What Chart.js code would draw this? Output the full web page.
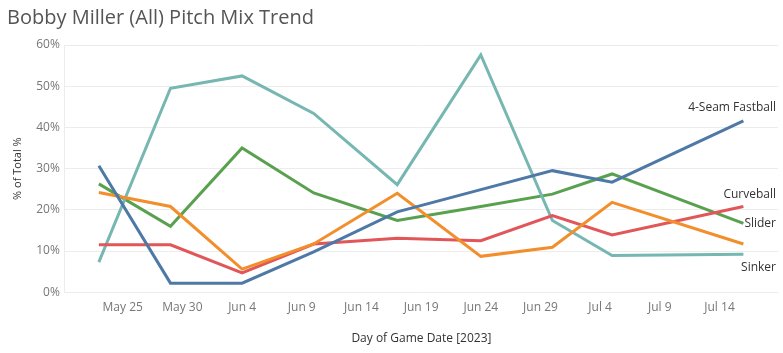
<!DOCTYPE html>
<html>
<head>
<meta charset="utf-8">
<script src="https://cdn.jsdelivr.net/npm/chart.js@4/dist/chart.umd.min.js"></script>
<style>
  body { margin: 0; background: #fff; }
  #wrap { width: 783px; height: 353px; position: relative; }
</style>
</head>
<body>
<div id="wrap"><canvas id="mix"></canvas></div>
<script>
// game dates and pitch share (% of total) per game
var gameDates = ['2023-05-23','2023-05-29','2023-06-04','2023-06-10','2023-06-17','2023-06-24','2023-06-30','2023-07-05','2023-07-16'];
var fastball  = [30.7, 2.2, 2.2, 9.8, 19.5, 24.9, 29.5, 26.7, 41.6];
var changeup  = [24.2, 20.8, 5.6, 11.7, 24.0, 8.7, 10.9, 21.8, 11.7];
var curveball = [11.5, 11.5, 4.7, 11.7, 13.1, 12.5, 18.6, 13.9, 20.8];
var sinker    = [7.3, 49.5, 52.5, 43.4, 26.1, 57.6, 17.4, 8.9, 9.2];
var slider    = [26.3, 16.0, 35.0, 24.1, 17.4, 20.8, 23.8, 28.7, 16.7];
var xTicks = [0, 5, 10, 15, 20, 25, 30, 35, 40, 45, 50]; // days after May 25
var yTicks = [0, 10, 20, 30, 40, 50, 60];

var base = Date.UTC(2023, 4, 25);
var months = ['Jan','Feb','Mar','Apr','May','Jun','Jul','Aug','Sep','Oct','Nov','Dec'];
function dayNum(s){
  var p = s.split('-');
  return Math.round((Date.UTC(+p[0], +p[1]-1, +p[2]) - base) / 86400000);
}
function dayLabel(v){
  var d = new Date(base + v*86400000);
  return months[d.getUTCMonth()] + ' ' + d.getUTCDate();
}
function pts(arr){
  return arr.map(function(v, i){ return {x: dayNum(gameDates[i]), y: v}; });
}

var FONT = "'Open Sans', 'DejaVu Sans', sans-serif";

// title and end-of-line labels
var extras = {
  id: 'extras',
  afterDraw: function(chart){
    var ctx = chart.ctx;
    ctx.save();
    ctx.fillStyle = '#555';
    ctx.font = '20px ' + FONT;
    ctx.textAlign = 'left';
    ctx.textBaseline = 'middle';
    ctx.fillText('Bobby Miller (All) Pitch Mix Trend', 7, 18);
    ctx.font = '12px ' + FONT;
    ctx.fillStyle = '#333';
    ctx.textAlign = 'right';
    chart.data.datasets.forEach(function(ds, i){
      if (ds.endOffset === undefined) return;
      var meta = chart.getDatasetMeta(i);
      var last = meta.data[meta.data.length - 1];
      ctx.fillText(ds.label, 776, last.y + ds.endOffset);
    });
    ctx.restore();
  }
};

new Chart(document.getElementById('mix'), {
  type: 'line',
  data: {
    datasets: [
      {label: '4-Seam Fastball', data: pts(fastball), borderColor: '#4e79a7', endOffset: -13},
      {label: 'Changeup', data: pts(changeup), borderColor: '#f28e2b'},
      {label: 'Curveball', data: pts(curveball), borderColor: '#e15759', endOffset: -12},
      {label: 'Sinker', data: pts(sinker), borderColor: '#76b7b2', endOffset: 13},
      {label: 'Slider', data: pts(slider), borderColor: '#59a14f', endOffset: 0}
    ]
  },
  options: {
    responsive: true,
    maintainAspectRatio: false,
    animation: false,
    elements: {
      line: { borderWidth: 3, tension: 0 },
      point: { radius: 0 }
    },
    layout: { padding: { top: 45, right: 5, left: 11, bottom: 7 } },
    plugins: {
      legend: { display: false },
      tooltip: { enabled: false }
    },
    scales: {
      x: {
        type: 'linear',
        min: -4.85,
        max: 54.9,
        afterBuildTicks: function(scale){
          scale.ticks = xTicks.map(function(v){ return {value: v}; });
        },
        ticks: {
          callback: function(v){ return dayLabel(v); },
          color: '#777',
          font: { family: FONT, size: 12 },
          maxRotation: 0,
          autoSkip: false,
          padding: 8
        },
        grid: { display: false, drawTicks: false },
        border: { display: false },
        title: {
          display: true,
          text: 'Day of Game Date [2023]',
          color: '#333',
          font: { family: FONT, size: 12 },
          padding: { top: 9, bottom: 0 }
        }
      },
      y: {
        min: 0,
        max: 60,
        afterBuildTicks: function(scale){
          scale.ticks = yTicks.map(function(v){ return {value: v}; });
        },
        ticks: {
          callback: function(v){ return v + '%'; },
          color: '#777',
          font: { family: FONT, size: 12 },
          padding: 5
        },
        grid: { color: '#ececec', drawTicks: false, lineWidth: 1 },
        border: { display: true, color: '#ececec' },
        title: {
          display: true,
          text: '% of Total %',
          color: '#333',
          font: { family: FONT, size: 11 },
          padding: { top: 0, bottom: 7 }
        }
      }
    }
  },
  plugins: [extras]
});
</script>
</body>
</html>
